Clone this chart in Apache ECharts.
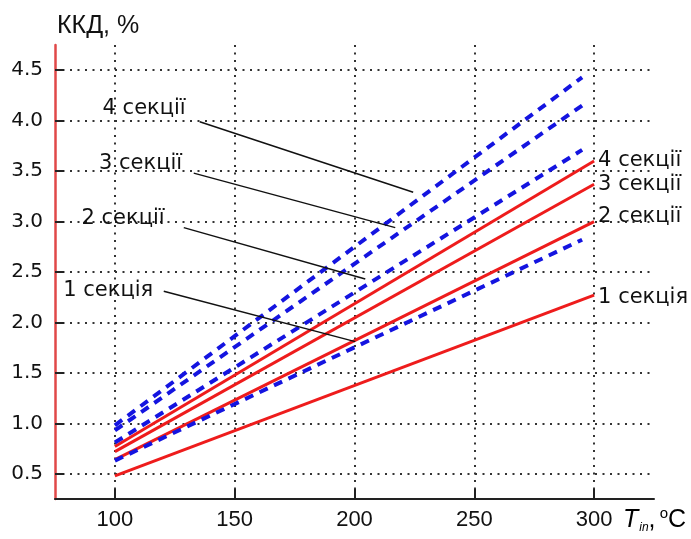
<!DOCTYPE html>
<html>
<head>
<meta charset="utf-8">
<script src="https://cdn.jsdelivr.net/npm/echarts@6/dist/echarts.min.js"></script>
<style>
html, body { margin: 0; padding: 0; background: #fff; }
#chart { width: 691px; height: 539px; }
</style>
</head>
<body>
<div id="chart"></div>
<script>
// x: inlet temperature, y: efficiency (%)
var xTicks = [100, 150, 200, 250, 300];
var yTicks = [0.5, 1.0, 1.5, 2.0, 2.5, 3.0, 3.5, 4.0, 4.5];

var lineNames = ['1 секція', '2 секції', '3 секції', '4 секції'];
// solid red lines, values at T = 100 and T = 300
var redX = [100, 300];
var redY = [
    [0.48, 2.27],
    [0.64, 3.00],
    [0.72, 3.37],
    [0.77, 3.60]
];
// dashed blue lines, values at T = 100 and T = 295
var blueX = [100, 295];
var blueY = [
    [0.63, 2.82],
    [0.81, 3.71],
    [0.93, 4.15],
    [0.98, 4.43]
];
// left-hand annotations and their leader lines (data coords)
var noteAt = [[97.2, 2.32], [103.4, 3.03], [110.7, 3.575], [112.2, 4.12]];
var leaderFrom = [[120.4, 2.31], [128.75, 2.94], [132.9, 3.48], [135.4, 3.99]];
var leaderTo = [[200.3, 1.81], [204.5, 2.43], [217.0, 2.94], [224.5, 3.29]];

var chart = echarts.init(document.getElementById('chart'));

function pairs(xs, ys) {
    return xs.map(function(x, i) { return [x, ys[i]]; });
}

var series = [];
redY.forEach(function(ys, i) {
    series.push({
        name: lineNames[i],
        type: 'line',
        data: pairs(redX, ys),
        symbol: 'none',
        silent: true,
        lineStyle: { color: '#ee1c1c', width: 3 },
        endLabel: {
            show: true,
            formatter: '{a}',
            fontFamily: 'DejaVu Sans',
            fontSize: 21,
            color: '#111',
            distance: 4,
            offset: [0, i == 1 ? -5 : (i == 0 ? 2 : 0)]
        },
        z: 3
    });
});
blueY.forEach(function(ys, i) {
    series.push({
        name: 'b' + i,
        type: 'line',
        data: pairs(blueX, ys),
        symbol: 'none',
        silent: true,
        lineStyle: { color: '#1414e0', width: 4, type: [9, 7] },
        z: 3
    });
});
series.push({
    name: 'notes',
    type: 'scatter',
    symbolSize: 0,
    silent: true,
    itemStyle: { opacity: 1 },
    data: noteAt.map(function(p, i) { return { value: p, name: lineNames[i] }; }),
    label: {
        show: true,
        position: 'inside',
        formatter: '{b}',
        fontFamily: 'DejaVu Sans',
        fontSize: 21,
        color: '#111',
        opacity: 1
    },
    markLine: {
        silent: true,
        symbol: 'none',
        label: { show: false },
        lineStyle: { color: '#111', width: 1.5, type: 'solid', opacity: 1 },
        data: leaderFrom.map(function(p, i) {
            return [{ coord: p }, { coord: leaderTo[i] }];
        })
    },
    z: 4
});

var option = {
    animation: false,
    grid: { left: 55, right: 37, top: 45, bottom: 40 },
    xAxis: {
        type: 'value',
        min: 75,
        max: 325,
        axisLine: { show: true, lineStyle: { color: '#222', width: 2 } },
        axisTick: {
            show: true, inside: true, length: 10,
            customValues: xTicks,
            lineStyle: { color: '#222', width: 2 }
        },
        axisLabel: {
            customValues: xTicks,
            margin: 10,
            fontFamily: 'Liberation Sans',
            fontSize: 22,
            color: '#111'
        },
        splitLine: { show: true, lineStyle: { color: '#333', width: 2, type: [2, 5.5] } }
    },
    yAxis: {
        type: 'value',
        min: 0.25,
        max: 4.75,
        name: 'ККД, %',
        nameLocation: 'end',
        nameGap: 6,
        nameTextStyle: {
            fontFamily: 'Liberation Sans',
            fontSize: 25,
            color: '#111',
            align: 'left',
            padding: [0, 0, 0, 2]
        },
        axisLine: { show: true, lineStyle: { color: '#e04848', width: 2.5 } },
        axisTick: {
            show: true, inside: true, length: 9,
            customValues: yTicks,
            lineStyle: { color: '#222', width: 2 }
        },
        axisLabel: {
            customValues: yTicks,
            margin: 12,
            fontFamily: 'DejaVu Sans',
            fontSize: 20,
            color: '#111',
            formatter: function(v) { return v.toFixed(1); }
        },
        splitLine: { show: true, lineStyle: { color: '#333', width: 2, type: [2, 5.5] } }
    },
    graphic: [{
        type: 'text',
        left: 623,
        top: 506,
        silent: true,
        style: {
            text: '{t|T}{s|in}{n|,}{p| o}{n|C}',
            rich: {
                t: { fontFamily: 'Liberation Sans', fontStyle: 'italic', fontSize: 25, color: '#111' },
                s: { fontFamily: 'Liberation Sans', fontStyle: 'italic', fontSize: 12, color: '#111', padding: [14, 0, 0, 1] },
                p: { fontFamily: 'Liberation Sans', fontSize: 15, color: '#111', padding: [0, 0, 14, 0] },
                n: { fontFamily: 'Liberation Sans', fontSize: 25, color: '#111' }
            }
        }
    }],
    series: series
};
chart.setOption(option);
</script>
</body>
</html>
